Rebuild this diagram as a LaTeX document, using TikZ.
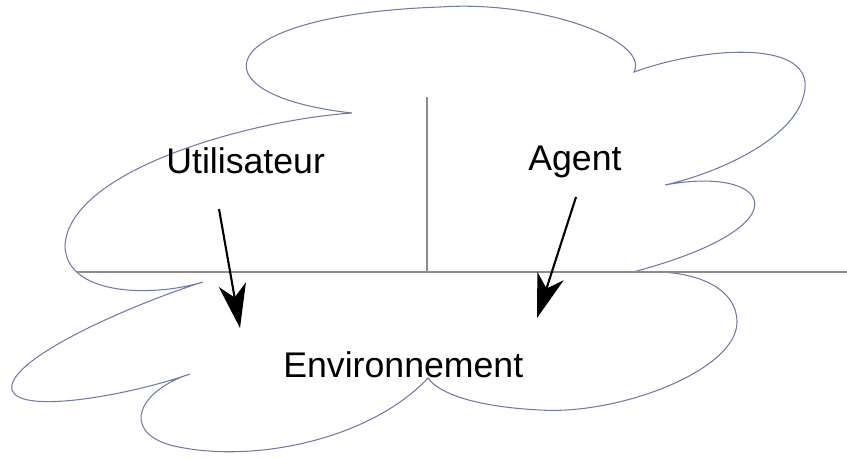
\documentclass[tikz,border=0pt]{standalone}
\usepackage{fontspec}
\setmainfont{Liberation Sans}
\usetikzlibrary{arrows.meta}

\definecolor{cloudline}{RGB}{112,122,168}
\definecolor{splitline}{RGB}{140,140,140}

\begin{document}
\begin{tikzpicture}[x=0.02cm,y=-0.02cm,
    cloud/.style={cloudline,line width=0.6pt},
    split/.style={splitline,line width=0.9pt},
    word/.style={font=\fontsize{20.3}{24}\selectfont,anchor=base west,inner sep=0pt},
    act/.style={line width=1.2pt,-{Stealth[length=0.88cm,width=0.55cm,inset=0.26cm]}}]
    \useasboundingbox (0,0) rectangle (847,457);
    % outline of the whole cloud
    \draw[cloud] (203,282) .. controls (150,298) and (65,295) .. (65,245)
        .. controls (70,170) and (250,120) .. (352,113)
        .. controls (190,95) and (210,15) .. (440,7)
        .. controls (540,0) and (650,40) .. (634,72)
        .. controls (700,48) and (800,40) .. (805,82)
        .. controls (808,130) and (730,170) .. (665,185)
        .. controls (770,165) and (810,225) .. (633,272)
        .. controls (700,268) and (737,290) .. (737,322)
        .. controls (737,370) and (620,415) .. (540,410)
        .. controls (480,407) and (440,395) .. (428,378)
        .. controls (370,440) and (250,465) .. (170,445)
        .. controls (120,430) and (140,390) .. (190,374)
        .. controls (130,395) and (20,415) .. (12,390)
        .. controls (5,360) and (130,305) .. (203,282);
    % separations
    \coordinate (linel) at (77,272);
    \coordinate (liner) at (847,272);
    \coordinate (midtop) at (427,97);
    \coordinate (midbot) at (427,272);
    \draw[split] (linel) -- (liner);
    \draw[split] (midtop) -- (midbot);
    % texts
    \node[word] (util) at (166,173) {Utilisateur};
    \node[word] (agent) at (528,170) {Agent};
    \node[word] (env) at (283,377) {Environnement};
    % arrows
    \coordinate (utilfrom) at (219,209);
    \coordinate (utilto) at (240,328);
    \coordinate (agentfrom) at (576,197);
    \coordinate (agentto) at (537,318);
    \draw[act] (utilfrom) -- (utilto);
    \draw[act] (agentfrom) -- (agentto);
\end{tikzpicture}
\end{document}
